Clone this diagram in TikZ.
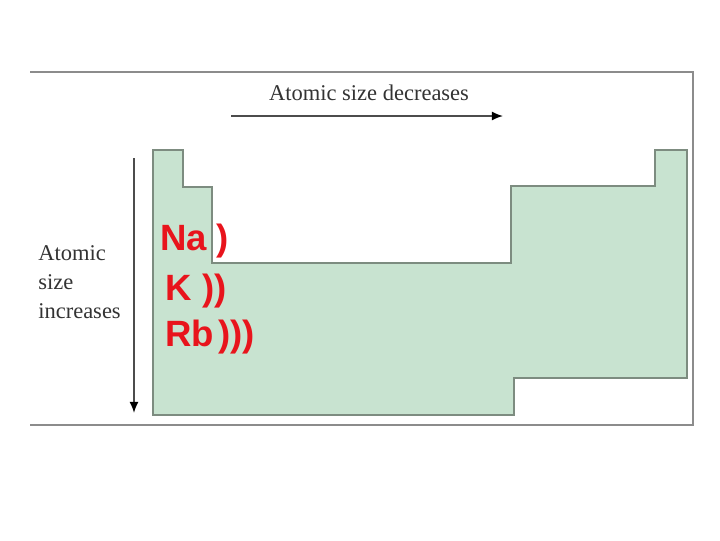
\documentclass[tikz,border=0pt]{standalone}
\usepackage{fontspec}
\setmainfont{Liberation Serif}
\newfontfamily\handfont{Liberation Sans}
\usepackage{tikz}
\usetikzlibrary{arrows.meta}

\definecolor{framegray}{HTML}{8C8C8C}
\definecolor{tablegreen}{HTML}{C8E3D0}
\definecolor{tableedge}{HTML}{7D8C80}
\definecolor{inkred}{HTML}{E8141C}

\begin{document}
\begin{tikzpicture}[x=0.025cm, y=-0.025cm,
            frame/.style    ={draw=framegray, line width=1.4pt},
            ptable/.style   ={fill=tablegreen, draw=tableedge, line width=1.1pt, line join=miter},
            arr/.style      ={-{Latex[length=8pt, width=6.5pt, black]}, line width=1.2pt, black!70},
            axislabel/.style={font=\fontsize{16}{20.6}\selectfont, text=black!80, inner sep=0pt},
            handnote/.style ={font=\handfont\bfseries\fontsize{26}{30}\selectfont, text=inkred,
                              inner sep=0pt, anchor=base west}
        ]
            \useasboundingbox (0,0) rectangle (720,540);

            % --- Marco ---
            \draw[frame] (30,72) -- (693,72) -- (693,425) -- (30,425);

            % --- Silueta de la tabla periodica ---
            \draw[ptable] (153,150) -- (183,150) -- (183,187) -- (212,187) -- (212,263)
                -- (511,263) -- (511,186) -- (655,186) -- (655,150) -- (687,150)
                -- (687,378) -- (514,378) -- (514,415) -- (153,415) -- cycle;

            % --- Textos ---
            \node[axislabel, anchor=base] (decr) at (369,100) {Atomic size decreases};
            \node[axislabel, anchor=north west, align=left] (incr) at (38,245)
                {Atomic\\size\\increases};

            % --- Flechas ---
            \coordinate (hstart) at (231,116);
            \coordinate (hend)   at (503,116);
            \coordinate (vstart) at (134,158);
            \coordinate (vend)   at (134,413);
            \draw[arr] (hstart) -- (hend);
            \draw[arr] (vstart) -- (vend);

            % --- Notas a mano ---
            \node[handnote] (na) at (160,250) {Na\hspace{0.25em})};
            \node[handnote] (k)  at (165,300) {K\hspace{0.3em}))};
            \node[handnote] (rb) at (165,346) {Rb\hspace{0.12em})))};

        \end{tikzpicture}
\end{document}
